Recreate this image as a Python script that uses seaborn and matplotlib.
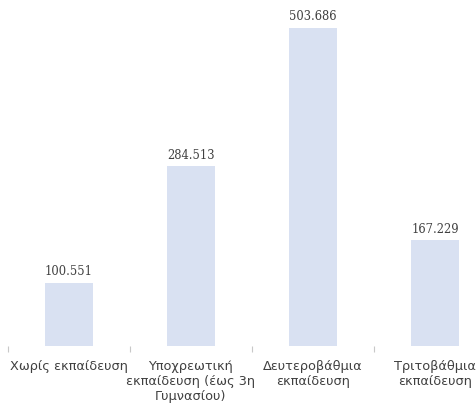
import matplotlib
matplotlib.use("Agg")
import matplotlib.pyplot as plt
import seaborn as sns
import pandas as pd
from matplotlib.ticker import FixedLocator

categories = ["Χωρίς εκπαίδευση", "Υποχρεωτική\nεκπαίδευση (έως 3η\nΓυμνασίου)",
              "Δευτεροβάθμια\nεκπαίδευση", "Τριτοβάθμια\nεκπαίδευση"]
values = [100551, 284513, 503686, 167229]
value_labels = ["100.551", "284.513", "503.686", "167.229"]

sns.set_theme(style="white")
plt.rcParams['font.family'] = ['DejaVu Sans']

df = pd.DataFrame({"cat": categories, "val": values})

fig = plt.figure(figsize=(4.76, 4.05), dpi=100)
W, H = 476, 405
ax = fig.add_axes([8 / W, 59 / H, 468 / W, 346 / H])
sns.barplot(data=df, x="cat", y="val", color="#D9E1F2", saturation=1,
            width=0.4, ax=ax)
for p in ax.patches:
    p.set_edgecolor("none")

ax.set_xlim(-0.5, -0.5 + 468 / 122)
ax.set_ylim(0, 503686 * 346 / 318)
for s in ax.spines.values():
    s.set_visible(False)
ax.set_yticks([])
ax.set_xlabel("")
ax.set_ylabel("")
ax.tick_params(axis="x", which="major", length=0, pad=10, labelsize=9.3,
               labelcolor="#404040")
ax.xaxis.set_minor_locator(FixedLocator([-0.5, 0.5, 1.5, 2.5, 3.5]))
ax.tick_params(axis="x", which="minor", length=4, width=0.8, color="#C8C8C8",
               direction="out", bottom=True)
for lab in ax.get_xticklabels():
    lab.set_linespacing(1.2)

for i, (v, t) in enumerate(zip(values, value_labels)):
    ax.annotate(t, (i, v), xytext=(0, 3.5), textcoords="offset points",
                ha="center", va="bottom", fontsize=8.3, color="#404040",
                family="DejaVu Serif")

fig.savefig("out.png", dpi=100)
